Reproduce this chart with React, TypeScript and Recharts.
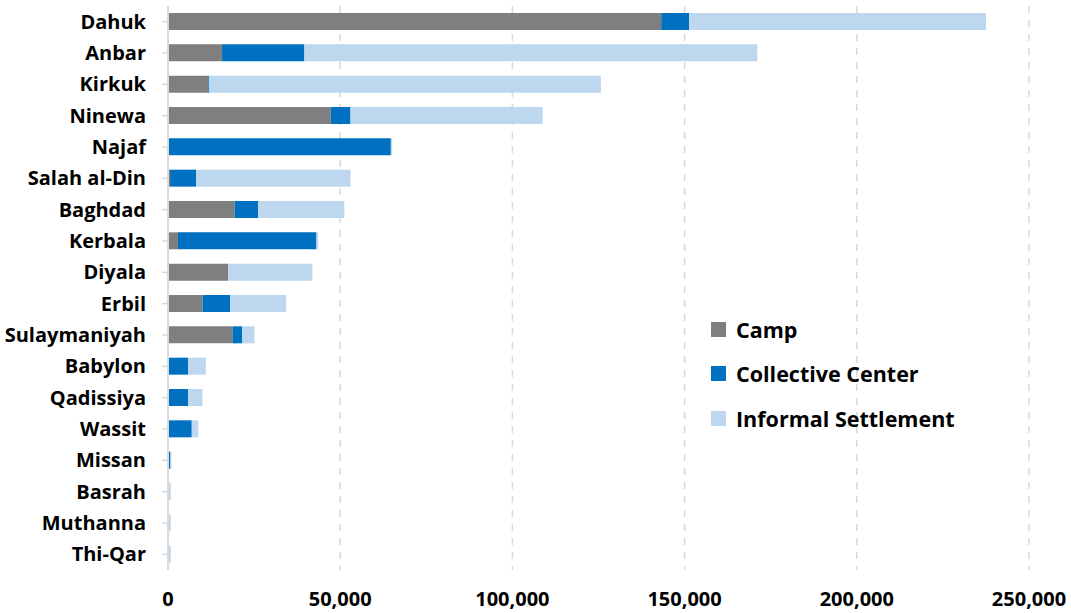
import { BarChart, Bar, XAxis, YAxis, CartesianGrid, Legend } from 'recharts'

const categories = [
  'Dahuk', 'Anbar', 'Kirkuk', 'Ninewa', 'Najaf', 'Salah al-Din', 'Baghdad', 'Kerbala', 'Diyala',
  'Erbil', 'Sulaymaniyah', 'Babylon', 'Qadissiya', 'Wassit', 'Missan', 'Basrah', 'Muthanna', 'Thi-Qar',
]
const camp = [143200, 15700, 11700, 47300, 0, 600, 19300, 2900, 17500, 10000, 18700, 0, 0, 0, 0, 0, 0, 0]
const collective = [8100, 23900, 300, 5700, 64700, 7600, 6900, 40200, 0, 8000, 2800, 5800, 5800, 6900, 700, 0, 0, 0]
const informal = [86200, 131500, 113700, 55800, 400, 44800, 25000, 500, 24400, 16300, 3600, 5200, 4200, 1900, 300, 800, 800, 800]
const xTicks = [0, 50000, 100000, 150000, 200000, 250000]

const series = [
  { key: 'camp', name: 'Camp', color: '#7f7f7f' },
  { key: 'collective', name: 'Collective Center', color: '#0070c0' },
  { key: 'informal', name: 'Informal Settlement', color: '#bdd7ee' },
]

const data = categories.map((name, i) => ({
  name,
  camp: camp[i],
  collective: collective[i],
  informal: informal[i],
}))

const font = { fontFamily: '"Open Sans", sans-serif', fontWeight: 700, fontSize: 20, fill: '#000' }

function LegendBox({ payload }: any) {
  return (
    <div style={{ fontFamily: '"Open Sans", sans-serif', fontWeight: 700, fontSize: 21.5 }}>
      {(payload || []).map((p: any) => (
        <div key={p.value} style={{ display: 'flex', alignItems: 'center', height: 44.5 }}>
          <span style={{ width: 15, height: 15, background: p.color, marginRight: 10 }} />
          <span>{p.value}</span>
        </div>
      ))}
    </div>
  )
}

export default function App() {
  return (
    <div style={{ width: 1071, height: 613, background: '#fff' }}>
      <style>{`body{margin:0}`}</style>
      <BarChart
        width={1071}
        height={613}
        data={data}
        layout="vertical"
        barSize={17}
        margin={{ top: 6, right: 42, left: 0, bottom: 0 }}
      >
        <CartesianGrid horizontal={false} stroke="#d9d9d9" strokeWidth={1.5} strokeDasharray="7 7" />
        <XAxis
          type="number"
          domain={[0, 250000]}
          ticks={xTicks}
          height={43}
          axisLine={false}
          tickLine={false}
          tickMargin={16}
          interval={0}
          tick={font}
          tickFormatter={(v: number) => v.toLocaleString('en-US')}
        />
        <YAxis
          type="category"
          dataKey="name"
          width={168}
          interval={0}
          axisLine={{ stroke: '#d9d9d9', strokeWidth: 2 }}
          tickLine={{ stroke: '#d9d9d9', strokeWidth: 1.5 }}
          tickSize={6}
          tickMargin={16}
          tick={font}
        />
        <Legend
          layout="vertical"
          align="center"
          verticalAlign="middle"
          content={<LegendBox />}
          wrapperStyle={{ position: 'absolute', left: 711, top: 307, width: 320 }}
        />
        {series.map((s) => (
          <Bar key={s.key} dataKey={s.key} name={s.name} stackId="a" fill={s.color} isAnimationActive={false} />
        ))}
      </BarChart>
    </div>
  )
}
